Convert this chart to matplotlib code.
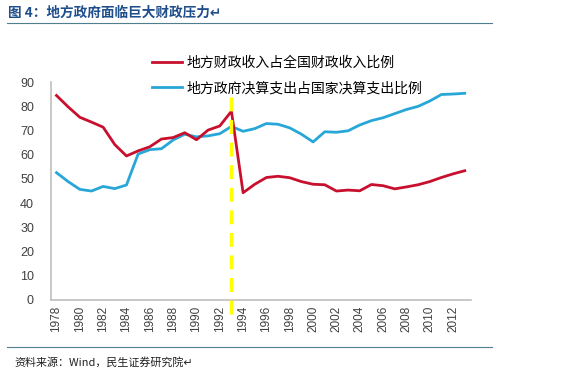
import matplotlib.pyplot as plt
from matplotlib.lines import Line2D

plt.rcParams['font.family'] = ['Noto Sans CJK SC', 'DejaVu Sans']

# Daten
years = list(range(1978, 2014))
revenue_share = [84.5, 79.8, 75.5, 73.5, 71.4, 64.2, 59.5, 61.6, 63.3, 66.5,
                 67.1, 69.1, 66.2, 70.2, 71.9, 78.0, 44.3, 47.8, 50.6, 51.1,
                 50.5, 48.9, 47.8, 47.6, 45.0, 45.4, 45.1, 47.7, 47.2, 45.9,
                 46.7, 47.6, 48.9, 50.6, 52.1, 53.4]
spending_share = [52.6, 48.9, 45.7, 45.0, 46.9, 46.0, 47.5, 60.3, 62.1, 62.5,
                  66.1, 68.5, 67.4, 67.8, 68.7, 71.7, 69.7, 70.8, 72.9, 72.6,
                  71.1, 68.5, 65.3, 69.5, 69.3, 69.9, 72.3, 74.1, 75.3, 77.0,
                  78.7, 80.0, 82.2, 84.9, 85.1, 85.4]
series_names = ['地方财政收入占全国财政收入比例', '地方政府决算支出占国家决算支出比例']
reform_year = 1993
tick_years = list(range(1978, 2014, 2))

fig = plt.figure(figsize=(5.69, 3.84), dpi=100)
ax = fig.add_axes([0.089, 0.219, 0.738, 0.567])

x = list(range(len(years)))
ax.plot(x, revenue_share, color='#c8102e', lw=2.0, solid_joinstyle='round', zorder=3)
ax.plot(x, spending_share, color='#27a7d8', lw=2.0, solid_joinstyle='round', zorder=2)

# gelbe Linie (Steuerreform 1994)
xi = years.index(reform_year)
ax.plot([xi, xi], [84, -7.5], color='#ffff00', lw=2.5, ls=(0, (4, 2.5)),
        clip_on=False, zorder=4)

ax.set_xlim(-0.5, len(years) - 0.5)
ax.set_ylim(0, 90)
ax.set_yticks(range(0, 91, 10))
ax.set_yticklabels([str(v) for v in range(0, 91, 10)], family='Liberation Sans')
ax.set_xticks([years.index(y) for y in tick_years])
ax.set_xticklabels([str(y) for y in tick_years], rotation=90, fontsize=8.5,
                   color='#404040', family='Liberation Sans')
ax.tick_params(axis='y', labelsize=9, labelcolor='#404040', length=0, pad=12)
ax.tick_params(axis='x', length=0, pad=4)
for s in ['top', 'right']:
    ax.spines[s].set_visible(False)
ax.spines['left'].set_color('#bfbfbf')
ax.spines['bottom'].set_color('#bfbfbf')
ax.spines['left'].set_linewidth(1.2)
ax.spines['bottom'].set_linewidth(1.2)

handles = [Line2D([], [], color='#c8102e', lw=2.0),
           Line2D([], [], color='#27a7d8', lw=2.0)]
fig.legend(handles, series_names, loc='upper left', bbox_to_anchor=(0.255, 0.872),
           frameon=False, fontsize=10, handlelength=2.15, handletextpad=0.3,
           labelspacing=0.8, borderpad=0)

# Titel und Quelle
fig.text(0.014, 0.968, '图 4：地方政府面临巨大财政压力↵', fontsize=9.8, fontweight='bold',
         color='#1f4e8c', va='center', ha='left')
fig.add_artist(Line2D([0.012, 0.865], [0.94, 0.94], color='#4f7f8f', lw=0.8))
fig.add_artist(Line2D([0.012, 0.865], [0.097, 0.097], color='#4f7f8f', lw=0.8))
fig.text(0.025, 0.055, '资料来源：Wind，民生证券研究院↵', fontsize=7.9, color='#202020',
         va='center', ha='left')

fig.savefig('out.png', dpi=100)
